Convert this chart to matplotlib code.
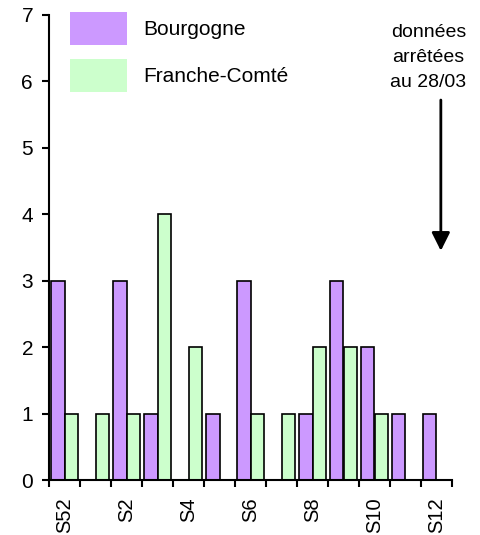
import matplotlib
matplotlib.use("Agg")
import matplotlib.pyplot as plt
import numpy as np
from matplotlib.patches import Patch

plt.rcParams['font.family'] = ['Liberation Sans', 'DejaVu Sans']

# weekly counts, S52 through S12
semaines = ['S52', 'S1', 'S2', 'S3', 'S4', 'S5', 'S6', 'S7', 'S8', 'S9', 'S10', 'S11', 'S12']
bourgogne = [3, 0, 3, 1, 0, 1, 3, 0, 1, 3, 2, 1, 1]
franche_comte = [1, 1, 1, 4, 2, 0, 1, 1, 2, 2, 1, 0, 0]
series_names = ['Bourgogne', 'Franche-Comté']
colors = ['#CC99FF', '#CCFFCC']

fig = plt.figure(figsize=(4.81, 5.35), dpi=100)
ax = fig.add_axes([49/481, 1-480/535, (452-49)/481, (480-15)/535])

x = np.arange(len(semaines))
w = 0.42
ax.bar(x - w/2, bourgogne, w, color=colors[0], edgecolor='black', linewidth=1.2)
ax.bar(x + w/2, franche_comte, w, color=colors[1], edgecolor='black', linewidth=1.2)

ax.set_xlim(-0.5, len(semaines) - 0.5)
ax.set_ylim(0, 7)
ax.set_yticks(range(0, 8))

# ticks between categories, labels every other week
ax.set_xticks(np.arange(len(semaines) + 1) - 0.5)
ax.set_xticklabels([])
ax.set_xticks(x[::2], minor=True)
ax.set_xticklabels(semaines[::2], minor=True, rotation=90, va='top', ha='center')
ax.tick_params(axis='x', which='minor', length=0, pad=12.5, labelsize=14.5)
ax.tick_params(axis='x', which='major', length=5, width=1.5, direction='out')
ax.tick_params(axis='y', length=5, width=1.5, pad=6.5, labelsize=15)

for s in ['top', 'right']:
    ax.spines[s].set_visible(False)
for s in ['left', 'bottom']:
    ax.spines[s].set_linewidth(1.5)

handles = [Patch(facecolor=c, edgecolor='none') for c in colors]
fig.legend(handles, series_names, loc='upper left', bbox_to_anchor=(70/481, 1-12/535),
           frameon=False, fontsize=15, handlelength=2.75, handleheight=2.06,
           handletextpad=0.75, labelspacing=0.68, borderpad=0, borderaxespad=0)

ax.text(11.74, 6.86, 'données\narrêtées\nau 28/03', ha='center', va='top',
        fontsize=14, linespacing=1.6)
ax.annotate('', xy=(12.14, 3.45), xytext=(12.14, 5.72),
            arrowprops=dict(arrowstyle='-|>,head_width=0.55,head_length=1.1',
                            color='black', lw=2, shrinkA=0, shrinkB=0))

fig.savefig('out.png', dpi=100)
